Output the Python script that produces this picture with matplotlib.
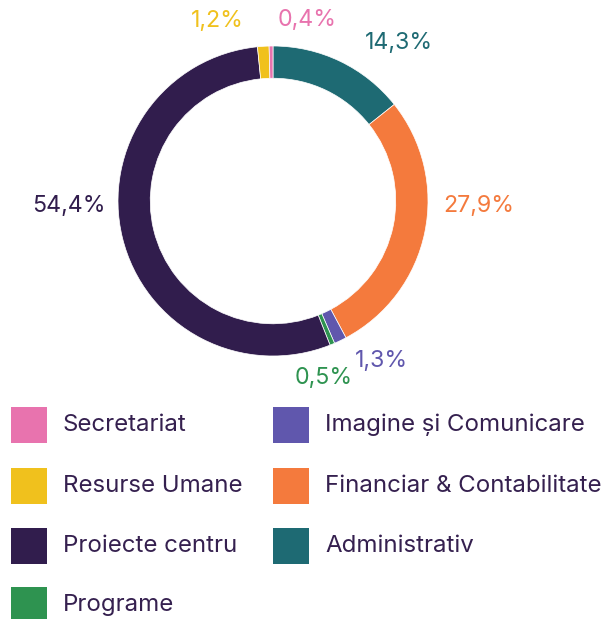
import matplotlib
matplotlib.use("Agg")
import matplotlib.pyplot as plt
from matplotlib.patches import Rectangle

plt.rcParams['font.family'] = ['Inter', 'DejaVu Sans']

# Data (clockwise from top)
categories = ["Administrativ", "Financiar & Contabilitate", "Imagine și Comunicare",
              "Programe", "Proiecte centru", "Resurse Umane", "Secretariat"]
values = [14.3, 27.9, 1.3, 0.5, 54.4, 1.2, 0.4]
colors = ["#1E6A73", "#F47A3D", "#6057AD", "#2E9350", "#311D4D", "#F0C11D", "#E873AE"]
value_labels = ["14,3%", "27,9%", "1,3%", "0,5%", "54,4%", "1,2%", "0,4%"]

# label anchor positions (axes data units, radius = 1)
label_pos = [(0.81, 1.02), (1.33, -0.03), (0.70, -1.03), (0.33, -1.14),
             (-1.32, -0.03), (-0.36, 1.16), (0.22, 1.17)]

# legend order (row-major, 2 columns)
legend_order = ["Secretariat", "Imagine și Comunicare", "Resurse Umane",
                "Financiar & Contabilitate", "Proiecte centru", "Administrativ", "Programe"]

W, H = 602, 619
fig = plt.figure(figsize=(W / 100, H / 100), dpi=100)

cx, cy, R = 273, 201, 155
ax = fig.add_axes([(cx - R) / W, (H - cy - R) / H, 2 * R / W, 2 * R / H])
ax.pie(values, colors=colors, startangle=90, counterclock=False, radius=1,
       wedgeprops=dict(width=0.208, edgecolor="white", linewidth=0.5))
ax.set_xlim(-1, 1)
ax.set_ylim(-1, 1)
ax.set_aspect("equal")
ax.axis("off")

for (x, y), lab, col in zip(label_pos, value_labels, colors):
    ax.text(x, y, lab, color=col, fontsize=16.7, ha="center", va="center", clip_on=False)

text_color = "#35204F"
col_x = [11, 273]
row_y = [425, 486, 546, 605]
sq = 36
cmap = dict(zip(categories, colors))
for i, name in enumerate(legend_order):
    c, r = i % 2, i // 2
    x0 = col_x[c]
    yc = row_y[r]
    fig.add_artist(Rectangle((x0 / W, (H - yc - sq / 2) / H), sq / W, sq / H,
                             transform=fig.transFigure, facecolor=cmap[name], edgecolor="none"))
    fig.text((x0 + 52) / W, (H - yc) / H, name, color=text_color, fontsize=17.3,
             ha="left", va="center")

fig.savefig("out.png", dpi=100, facecolor="white")
